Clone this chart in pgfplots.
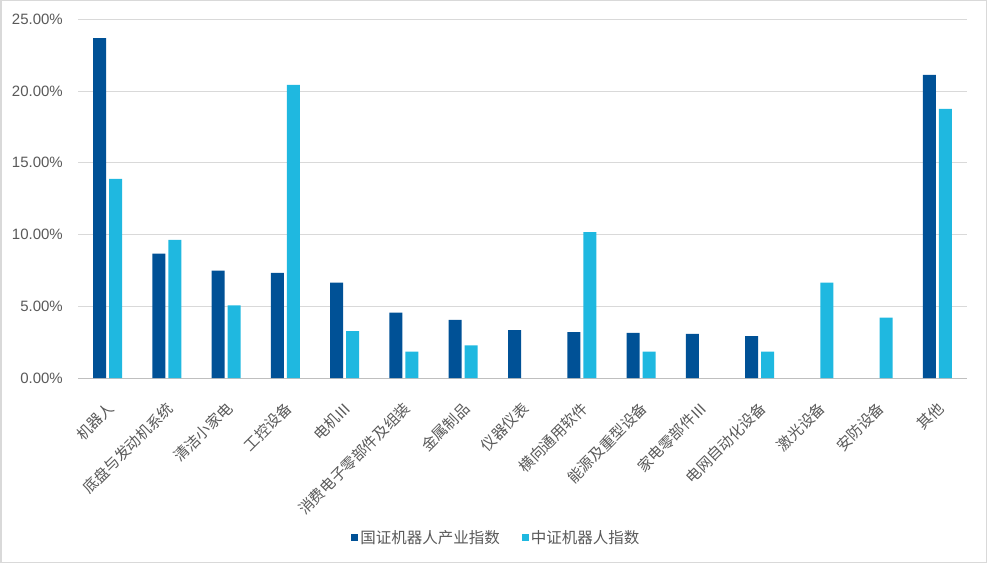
\documentclass[border=0pt]{standalone}
\usepackage{pgfplots}
\pgfplotsset{compat=1.18}
\usepackage{fontspec}
\setmainfont{Liberation Sans}
\newfontfamily\cjk{Noto Sans CJK SC}
\definecolor{darkb}{RGB}{0,81,150}
\definecolor{lightb}{RGB}{31,184,224}
\definecolor{txtgray}{RGB}{89,89,89}
\definecolor{gridgray}{RGB}{217,217,217}
\begin{document}
\begin{tikzpicture}[x=1pt,y=1pt]
\path[use as bounding box] (0,0) rectangle (987,563);
\draw[gridgray, line width=1.5pt] (0.75,0.75) rectangle (986.25,562.25);
\begin{axis}[
  at={(78pt,185pt)}, anchor=south west,
  scale only axis, width=889pt, height=358.7pt,
  xmin=-0.5, xmax=14.5, ymin=0, ymax=25,
  ybar=3pt, bar width=13pt,
  axis x line*=bottom, axis y line*=left,
  x axis line style={draw=black!25, line width=0.8pt, -},
  y axis line style={draw=none, -},
  ytick={0,5,10,15,20,25},
  ymajorgrids, grid style={gridgray, line width=0.8pt},
  major tick length=0pt,
  xtick={0,...,14},
  xticklabels={机器人,底盘与发动机系统,清洁小家电,工控设备,电机Ⅲ,消费电子零部件及组装,金属制品,仪器仪表,横向通用软件,能源及重型设备,家电零部件Ⅲ,电网自动化设备,激光设备,安防设备,其他},
  xticklabel style={font=\cjk\fontsize{15}{18}\selectfont, text=txtgray, rotate=45, anchor=east, inner sep=0pt, xshift=-17pt, yshift=-22pt},
  /pgf/number format/assume math mode=true,
  yticklabel={\pgfmathprintnumber[fixed,fixed zerofill,precision=2]{\tick}\%},
  yticklabel style={font=\fontsize{15}{18}\selectfont, text=txtgray, anchor=east, inner sep=0pt, xshift=-15pt},
  legend columns=2,
  legend style={at={(0.4707,-0.446)}, anchor=center, draw=none, fill=none,
    font=\cjk\fontsize{15.5}{18}\selectfont, text=txtgray,
    /tikz/every even column/.append style={column sep=20pt}},
  legend image code/.code={\fill[#1] (0pt,-3.5pt) rectangle (7pt,3.5pt);},
]
\addplot[fill=darkb, draw=none] coordinates {
(0,23.68) (1,8.66) (2,7.49) (3,7.33) (4,6.64) (5,4.55) (6,4.06) (7,3.34)
(8,3.20) (9,3.15) (10,3.08) (11,2.92) (14,21.13)};
\addplot[fill=lightb, draw=none] coordinates {
(0,13.88) (1,9.63) (2,5.06) (3,20.43) (4,3.27) (5,1.83) (6,2.27)
(8,10.17) (9,1.83) (11,1.83) (12,6.64) (13,4.20) (14,18.76)};
\legend{国证机器人产业指数,中证机器人指数}
\end{axis}
\end{tikzpicture}
\end{document}
